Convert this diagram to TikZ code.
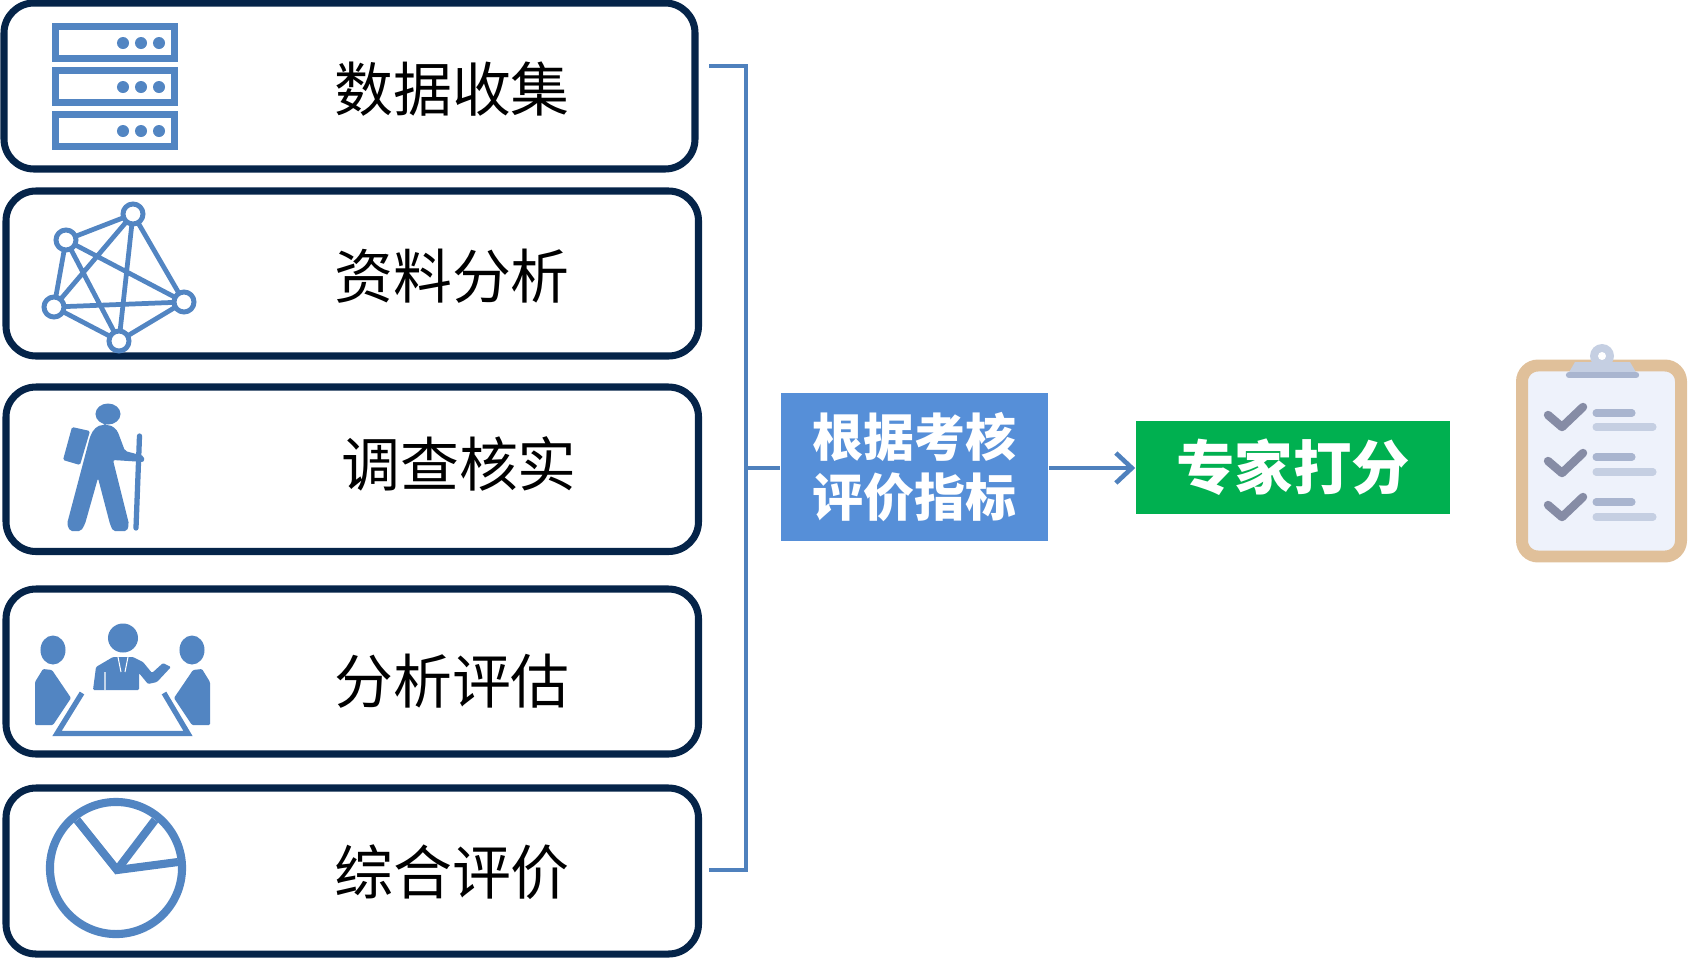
\documentclass[tikz,border=0pt]{standalone}
\usepackage{fontspec}
\setmainfont{Noto Sans CJK SC}
\usetikzlibrary{arrows.meta}
\definecolor{navy}{HTML}{052449}
\definecolor{iconblue}{HTML}{5285C2}
\definecolor{boxblue}{HTML}{568FD8}
\definecolor{boxgreen}{HTML}{00B050}
\definecolor{linkblue}{HTML}{4F81BD}
\definecolor{cbedge}{HTML}{E0C09A}
\definecolor{cbfill}{HTML}{EEF2FB}
\definecolor{cbclip}{HTML}{C5CFE2}
\definecolor{cbdark}{HTML}{A9B5CF}
\definecolor{cbcheck}{HTML}{868CA5}
\tikzset{
  x=0.01cm,y=-0.01cm,
  stage/.style={draw=navy,line width=2pt,rounded corners=0.3cm,fill=white,inner sep=0pt},
  stagetext/.style={font=\fontsize{16.75pt}{20pt}\selectfont,text=black,inner sep=0pt},
  result/.style={inner sep=0pt,text=white,font=\fontsize{14.5pt}{16.9pt}\selectfont\bfseries,align=center},
  link/.style={draw=linkblue,line width=1.3pt},
  iconline/.style={draw=iconblue,line width=1.35pt},
  srv/.style={draw=iconblue,line width=2.2pt,fill=white},
  hub/.style={circle,draw=iconblue,line width=1.4pt,fill=white,minimum size=0.2cm,inner sep=0pt},
  pieline/.style={draw=iconblue,line width=2.3pt},
  cbbar/.style={line width=2pt,line cap=round},
}
\newcommand{\stagebox}[5]{%
  \node[stage,minimum width={(#4-#2)*0.01cm},minimum height={(#5-#3)*0.01cm},anchor=center] (#1) at ({(#2+#4)/2},{(#3+#5)/2}) {};
}
\begin{document}
\begin{tikzpicture}
\useasboundingbox (0,0) rectangle (1688,957);
% boxes
\stagebox{b1}{4}{3}{695}{169}
\stagebox{b2}{6}{191}{698.5}{356}
\stagebox{b3}{6}{387}{698.5}{551.5}
\stagebox{b4}{6}{589}{698.5}{754}
\stagebox{b5}{6}{788}{698.5}{954}
% labels
\node[stagetext] (t1) at (452,89) {数据收集};
\node[stagetext] (t2) at (452,276) {资料分析};
\node[stagetext] (t3) at (459,464) {调查核实};
\node[stagetext] (t4) at (452,681) {分析评估};
\node[stagetext] (t5) at (452,872) {综合评价};
% central boxes
\node[result,fill=boxblue,minimum width=2.67cm,minimum height=1.47cm] (crit) at (914.5,467) {根据考核\\评价指标};
\node[result,fill=boxgreen,minimum width=3.14cm,minimum height=0.93cm,font=\fontsize{16.6pt}{20pt}\selectfont\bfseries] (exp) at (1293,467.5) {专家打分};
% bracket
\coordinate (btop) at (709,66);
\coordinate (bcor1) at (746,66);
\coordinate (bcor2) at (746,870);
\coordinate (bbot) at (709,870);
\coordinate (bmid) at (746,468);
\draw[link,line join=miter] (btop) -- (bcor1) -- (bcor2) -- (bbot);
\draw[link] (bmid) -- (crit.west |- bmid);
\draw[link,-{Straight Barb[length=0.16cm,width=0.3cm,line width=1.3pt]}] (crit.east |- bmid) -- (exp.west |- bmid);
% server icon
\foreach \y in {26.5,70.5,114.5}{
  \draw[srv] (55.5,\y) rectangle (174.5,{\y+32});
  \foreach \x in {123,141,159}{\fill[iconblue] (\x,{\y+16.5}) circle (0.06cm);}
}
% network icon
\path (133,214) coordinate (na) (66,240) coordinate (nb) (184,302) coordinate (nc) (54,307) coordinate (nd) (119,341) coordinate (ne);
\draw[iconline] (na)--(nb) (na)--(nc) (na)--(nd) (na)--(ne) (nb)--(nc) (nb)--(nd) (nb)--(ne) (nc)--(nd) (nc)--(ne) (nd)--(ne);
\foreach \n in {na,nb,nc,nd,ne}{\node[hub] at (\n) {};}
% hiker icon
\fill[iconblue] (108,414) ellipse [x radius=0.125cm,y radius=0.105cm];
\fill[iconblue,rounded corners=0.015cm] (72,427) -- (90,431) -- (80,465) -- (63,460) -- cycle;
\fill[iconblue,rounded corners=0.02cm] (105,425) .. controls (113,425) and (117,430) .. (119,435) -- (125,451) -- (144,456) -- (144,462) -- (113,460) -- (129,524) -- (127,531) -- (113,531) -- (110,524) -- (98,478) -- (85,524) -- (81,531) -- (70,531) -- (67,524) -- (90,437) .. controls (93,430) and (97,425) .. (105,425) -- cycle;
\draw[iconblue,line width=1.5pt,line cap=round] (139.5,436) -- (136,528);
% meeting icon
\fill[iconblue] (53,650) ellipse [x radius=0.125cm,y radius=0.145cm];
\fill[iconblue] (192,650) ellipse [x radius=0.125cm,y radius=0.145cm];
\fill[iconblue] (123,638) ellipse [x radius=0.15cm,y radius=0.145cm];
\fill[iconblue,rounded corners=0.012cm] (35,725) -- (35,682) -- (43,669) -- (52,670) -- (71,698) -- (53,725) -- cycle;
\fill[iconblue,rounded corners=0.012cm] (210,725) -- (210,682) -- (202,669) -- (193,670) -- (174,698) -- (192,725) -- cycle;
\fill[iconblue,rounded corners=0.012cm] (93,690) -- (96,667) -- (113,657) -- (133,657) -- (143,662) -- (152,673) -- (163,663) -- (171,667) -- (157,682) -- (148,684) -- (139,673) -- (139,690) -- cycle;
\draw[white,line width=0.3pt] (118,657) -- (121,672) (128,657) -- (125,672) (105,672) -- (105,690);
\draw[iconblue,line width=1.5pt,line join=miter] (82,693) -- (57,733.5) -- (188,733.5) -- (164,693);
% pie icon
\draw[pieline] (116,868) circle (0.66cm);
\draw[pieline,line join=miter] (77,820) -- (117,870) -- (178,862);
\draw[pieline] (117,870) -- (155,820);
% clipboard
\draw[fill=cbfill,draw=cbedge,line width=3.4pt,rounded corners=0.16cm] (1522,365.5) rectangle (1681,556.5);
\fill[cbclip] (1602,356) circle (0.12cm);
\fill[white] (1602,356) circle (0.04cm);
\fill[cbclip] (1575,362) -- (1630,362) -- (1637,374) -- (1568,374) -- cycle;
\draw[cbdark,line width=1.8pt,line cap=round] (1569,375) -- (1636,375);
\foreach \d in {0,46,90}{
  \draw[cbcheck,line width=2.4pt,line cap=round,line join=round] (1548,{415+\d}) -- (1562,{427+\d}) -- (1583,{407+\d});
}
\foreach \a/\b in {413/427,457/472,502/517}{
  \draw[cbbar,cbdark] (1596,\a) -- (1632,\a);
  \draw[cbbar,cbclip] (1596,\b) -- (1653,\b);
}
\end{tikzpicture}
\end{document}
